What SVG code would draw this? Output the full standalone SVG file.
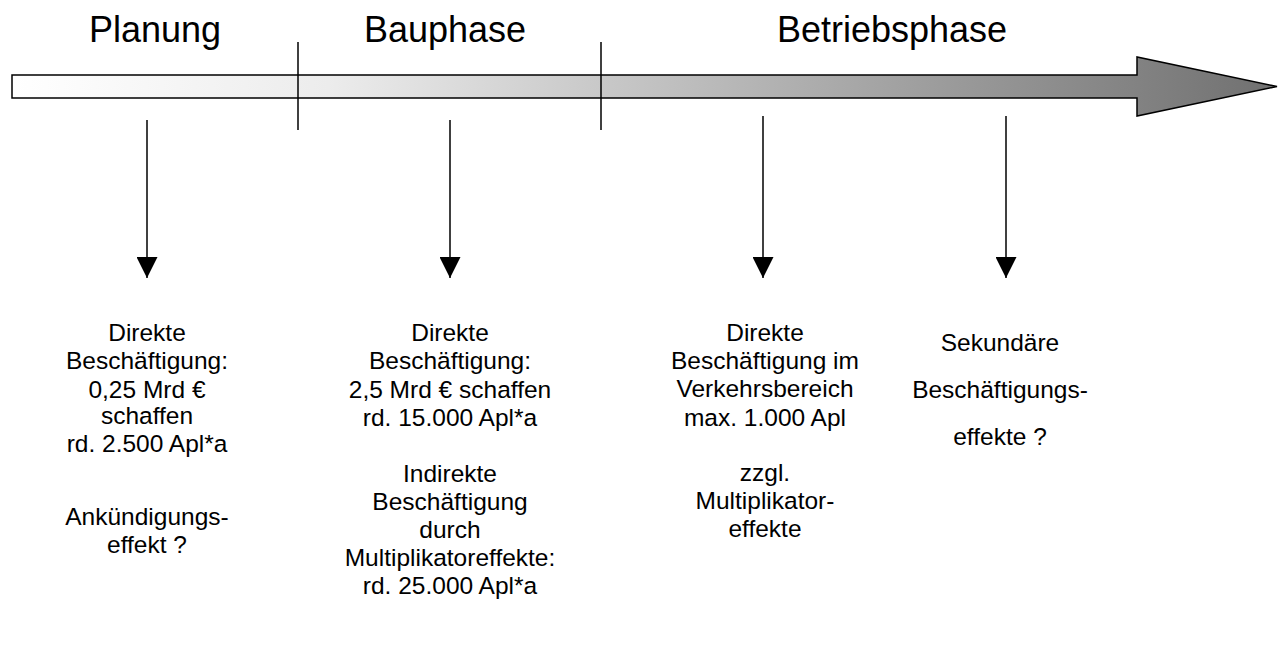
<svg xmlns="http://www.w3.org/2000/svg" width="1287" height="648" viewBox="0 0 1287 648">
<defs>
<linearGradient id="g" x1="12" y1="0" x2="1277" y2="0" gradientUnits="userSpaceOnUse">
<stop offset="0" stop-color="#ffffff"/>
<stop offset="0.25" stop-color="#ececec"/>
<stop offset="1" stop-color="#707070"/>
</linearGradient>
<marker id="ah" markerWidth="21" markerHeight="21" viewBox="0 0 21 21" refX="21" refY="10.5" orient="auto" markerUnits="userSpaceOnUse">
<path d="M0,0 L21,10.5 L0,21 Z" fill="#000"/>
</marker>
</defs>
<style>
.t{font-family:"Liberation Sans",Arial,sans-serif;font-size:24.5px;fill:#000;text-anchor:middle}
.h{font-family:"Liberation Sans",Arial,sans-serif;font-size:36px;fill:#000;text-anchor:middle}
.c{stroke:#000;stroke-width:1.5;fill:none}
</style>
<rect width="1287" height="648" fill="#fff"/>
<g id="timeline">
<polygon points="12,75 1137,75 1137,57 1277,86.5 1137,116 1137,98 12,98" fill="url(#g)" stroke="#000" stroke-width="1.5"/>
<line class="c" x1="298" y1="42" x2="298" y2="130"/>
<line class="c" x1="601" y1="42" x2="601" y2="130"/>
</g>
<g id="titles">
<text class="h" x="155" y="42">Planung</text>
<text class="h" x="445" y="42">Bauphase</text>
<text class="h" x="892" y="42">Betriebsphase</text>
</g>
<g id="connectors">
<line class="c" x1="147" y1="120" x2="147" y2="278" marker-end="url(#ah)"/>
<line class="c" x1="450" y1="120" x2="450" y2="278" marker-end="url(#ah)"/>
<line class="c" x1="763" y1="116" x2="763" y2="278" marker-end="url(#ah)"/>
<line class="c" x1="1006" y1="116" x2="1006" y2="278" marker-end="url(#ah)"/>
</g>
<g id="planung">
<text class="t" x="147" y="341">Direkte</text>
<text class="t" x="147" y="369">Beschäftigung:</text>
<text class="t" x="147" y="398">0,25 Mrd €</text>
<text class="t" x="147" y="424">schaffen</text>
<text class="t" x="147" y="452">rd. 2.500 Apl*a</text>
<text class="t" x="147" y="525">Ankündigungs-</text>
<text class="t" x="147" y="553">effekt ?</text>
</g>
<g id="bauphase">
<text class="t" x="450" y="341">Direkte</text>
<text class="t" x="450" y="369">Beschäftigung:</text>
<text class="t" x="450" y="398">2,5 Mrd € schaffen</text>
<text class="t" x="450" y="426">rd. 15.000 Apl*a</text>
<text class="t" x="450" y="482">Indirekte</text>
<text class="t" x="450" y="510">Beschäftigung</text>
<text class="t" x="450" y="538">durch</text>
<text class="t" x="450" y="566">Multiplikatoreffekte:</text>
<text class="t" x="450" y="594">rd. 25.000 Apl*a</text>
</g>
<g id="betrieb">
<text class="t" x="765" y="341">Direkte</text>
<text class="t" x="765" y="369">Beschäftigung im</text>
<text class="t" x="765" y="397">Verkehrsbereich</text>
<text class="t" x="765" y="426">max. 1.000 Apl</text>
<text class="t" x="765" y="481">zzgl.</text>
<text class="t" x="765" y="509">Multiplikator-</text>
<text class="t" x="765" y="537">effekte</text>
</g>
<g id="sekundaer">
<text class="t" x="1000" y="351">Sekundäre</text>
<text class="t" x="1000" y="398">Beschäftigungs-</text>
<text class="t" x="1000" y="445">effekte ?</text>
</g>
</svg>
